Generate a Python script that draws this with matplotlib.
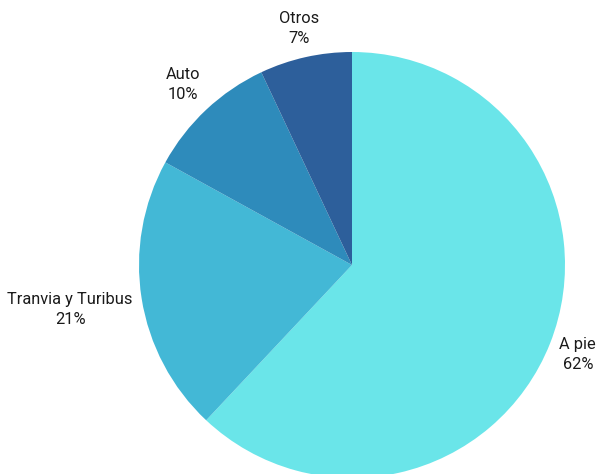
import numpy as np
import matplotlib
matplotlib.use("Agg")
import matplotlib.pyplot as plt

plt.rcParams['font.family'] = ['Roboto', 'DejaVu Sans']

categories = ["A pie", "Tranvia y Turibus", "Auto", "Otros"]
shares = [62, 21, 10, 7]
colors = ["#6ae5e9", "#43b8d6", "#2e8bbb", "#2d5f9b"]
# radial distance of each label, in units of the pie radius
label_radius = [1.14, 1.34, 1.16, 1.14]

W, H = 602, 474
R = 213.0
cx, cy = 352.0, 265.0

fig = plt.figure(figsize=(W / 100, H / 100), dpi=100)
ax = fig.add_axes([0, 0, 1, 1])

wedges, _ = ax.pie(shares, colors=colors, startangle=90, counterclock=False,
                   radius=1.0, center=(0, 0), frame=True,
                   wedgeprops=dict(linewidth=0))
ax.set_xlim(-cx / R, (W - cx) / R)
ax.set_ylim(-(H - cy) / R, cy / R)
ax.set_aspect('equal')
ax.axis('off')

for w, name, pct, lr in zip(wedges, categories, shares, label_radius):
    mid = np.deg2rad((w.theta1 + w.theta2) / 2)
    x, y = lr * np.cos(mid), lr * np.sin(mid)
    ax.text(x, y, f"{name}\n{pct}%", ha='center', va='center',
            fontsize=11.8, color='#1a1a1a', linespacing=1.42)

fig.savefig("out.png", dpi=100)
